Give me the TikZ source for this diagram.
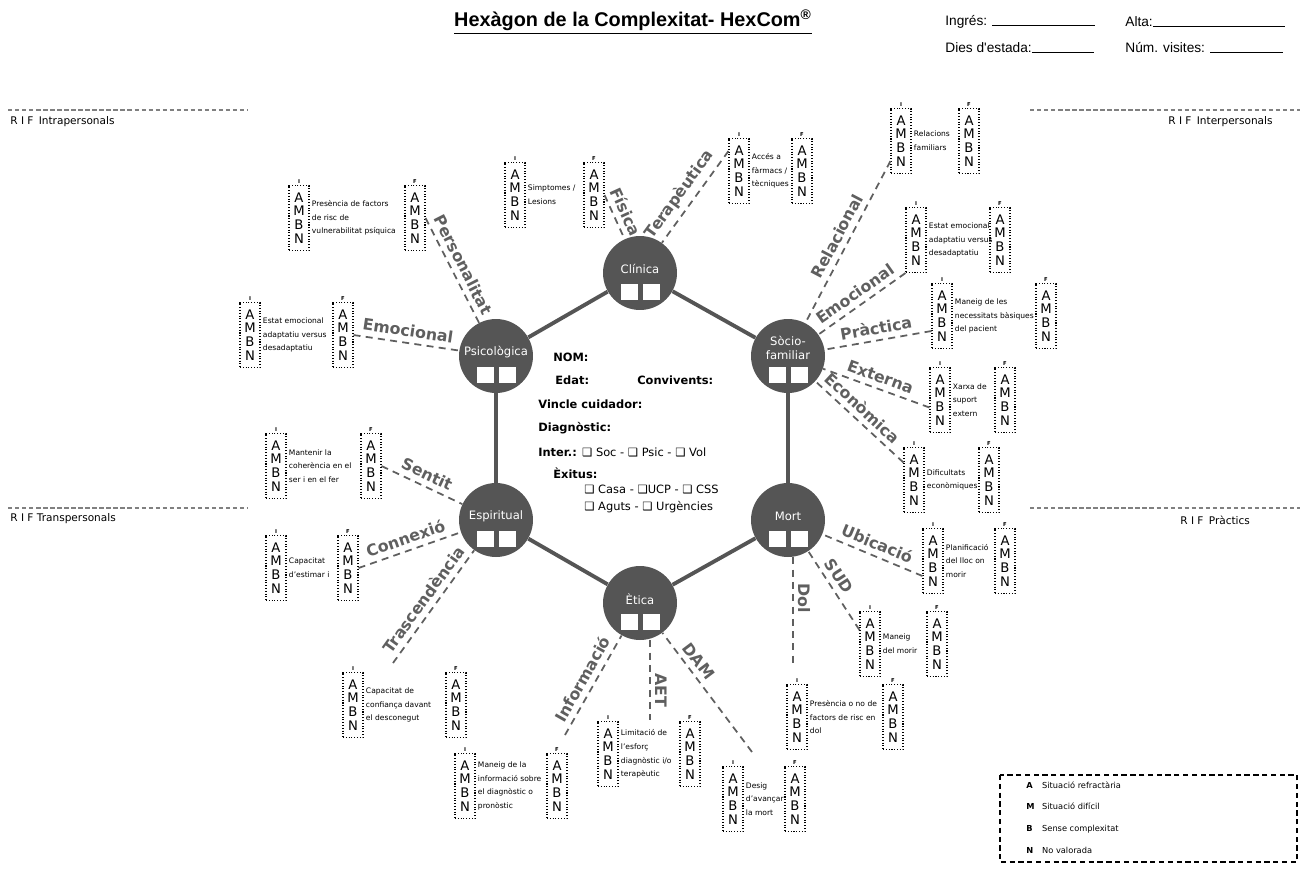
\documentclass[tikz,border=0pt]{standalone}
\usepackage{fontspec}
\setmainfont{DejaVu Sans}
\newfontfamily\arialfont{Liberation Sans}
\usetikzlibrary{calc,positioning}
\definecolor{hexgray}{RGB}{85,85,85}
\definecolor{catgray}{RGB}{95,95,95}
\tikzset{
  line cap=round,
  hexnode/.style={circle, fill=hexgray, minimum size=1.48cm, inner sep=0pt},
  hexlabel/.style={text=white, font=\fontsize{6.6}{7.6}\selectfont, align=center, inner sep=0pt},
  whitebox/.style={fill=white, minimum width=0.34cm, minimum height=0.33cm, inner sep=0pt},
  hexedge/.style={draw=hexgray, line width=2.2pt},
  ambnbox/.style={draw, densely dotted, line width=0.6pt, minimum width=0.4cm, minimum height=1.3cm, inner sep=0pt, align=center, font=\fontsize{7.5}{7.9}\selectfont},
  ioflabel/.style={font=\bfseries\fontsize{3}{3}\selectfont, inner sep=0.6pt},
  desc/.style={anchor=west, align=left, inner sep=1.2pt, font=\fontsize{4.3}{7.8}\selectfont},
  cat/.style={text=catgray, font=\bfseries\fontsize{9}{9.5}\selectfont, inner sep=0pt},
  link/.style={draw=catgray, line width=1pt, dash pattern=on 4pt off 3pt},
  info/.style={anchor=west, inner sep=0pt, font=\bfseries\fontsize{6.5}{7}\selectfont},
  hdr/.style={anchor=west, inner sep=0pt, font=\arialfont\fontsize{7.8}{8}\selectfont},
  rif/.style={anchor=west, inner sep=0pt, font=\fontsize{6}{7}\selectfont},
  sepline/.style={draw=gray, line width=0.6pt, dash pattern=on 2.5pt off 1.5pt},
  legend/.style={anchor=west, inner sep=0pt, font=\fontsize{4.7}{5}\selectfont}
}
% one item: name, x of I box, x of F box, top, text
\newcommand{\ambnpair}[5]{%
  \node[ambnbox, anchor=north, label={[ioflabel]above:I}] (#1-i) at (#2,#4) {A\\M\\B\\N};
  \node[ambnbox, anchor=north, label={[ioflabel]above:F}] (#1-f) at (#3,#4) {A\\M\\B\\N};
  \node[desc] (#1-t) at (#1-i.east) {#5};
}
% one dimension of the hexagon: name, x, y, label, label shift
\newcommand{\hexcircle}[5]{%
  \node[hexnode] (#1) at (#2,#3) {};
  \node[hexlabel] (#1-l) at ([yshift=#5]#1.center) {#4};
  \node[whitebox] (#1-a) at ([xshift=-0.22cm,yshift=-0.38cm]#1.center) {};
  \node[whitebox] (#1-b) at ([xshift=0.22cm,yshift=-0.38cm]#1.center) {};
}
\newcommand{\legitem}[2]{\makebox[9pt][l]{\textbf{#1}}#2}

\begin{document}
\begin{tikzpicture}[x=0.02cm,y=-0.02cm]
  \useasboundingbox (0,0) rectangle (1308,869);

  % header
  \node[font=\arialfont\bfseries\fontsize{11.3}{12}\selectfont] (title) at (633,22) {\underline{Hexàgon de la Complexitat- HexCom\textsuperscript{\textregistered}}};
  \node[hdr] (ingres) at (945,22) {Ingrés: \rule{2.05cm}{0.5pt}};
  \node[hdr] (alta) at (1125,22) {Alta:\rule{2.65cm}{0.5pt}};
  \node[hdr] (dies) at (945,48) {Dies d'estada:\rule{1.24cm}{0.5pt}};
  \node[hdr] (visites) at (1125,48) {Núm. visites: \rule{1.45cm}{0.5pt}};

  % areas
  \draw[sepline] (8,110) -- (248,110);
  \draw[sepline] (1030,110) -- (1300,110);
  \draw[sepline] (8,508) -- (248,508);
  \draw[sepline] (1030,508) -- (1300,508);
  \node[rif] (rif-intra) at (10,122) {R I F\enspace Intrapersonals};
  \node[rif] (rif-inter) at (1168,122) {R I F\enspace Interpersonals};
  \node[rif] (rif-trans) at (10,519) {R I F Transpersonals};
  \node[rif] (rif-prac) at (1180,520) {R I F\enspace Pràctics};

  % hexagon
  \hexcircle{clin}{640}{273}{Clínica}{0.08cm}
  \hexcircle{socio}{788}{356}{Sòcio-\\familiar}{0.16cm}
  \hexcircle{mort}{788}{520}{Mort}{0.08cm}
  \hexcircle{etica}{640}{603}{Ètica}{0.08cm}
  \hexcircle{espir}{496}{520}{Espiritual}{0.08cm}
  \hexcircle{psico}{496}{356}{Psicològica}{0.08cm}
  \draw[hexedge] (clin) -- (socio);
  \draw[hexedge] (socio) -- (mort);
  \draw[hexedge] (mort) -- (etica);
  \draw[hexedge] (etica) -- (espir);
  \draw[hexedge] (espir) -- (psico);
  \draw[hexedge] (psico) -- (clin);

  % patient data
  \node[info] (nom) at (553,357) {NOM:};
  \node[info] (edat) at (555,380) {Edat:};
  \node[info] (conv) at (637,380) {Convivents:};
  \node[info] (vincle) at (538,404) {Vincle cuidador:};
  \node[info] (diag) at (538,428) {Diagnòstic:};
  \node[info] (inter) at (538,452) {Inter.: \mdseries ❑ Soc - ❑ Psic - ❑ Vol};
  \node[info] (exitus) at (553,473) {Èxitus:};
  \node[info, font=\fontsize{6.5}{7}\selectfont] (dest1) at (584,490) {❑ Casa - ❑UCP - ❑ CSS};
  \node[info, font=\fontsize{6.5}{7}\selectfont] (dest2) at (584,507) {❑ Aguts - ❑ Urgències};

  % items
  \ambnpair{pers}{299}{415}{185}{Presència de factors\\de risc de\\vulnerabilitat psíquica}
  \ambnpair{emop}{250}{343}{302}{Estat emocional\\adaptatiu versus\\desadaptatiu}
  \ambnpair{fis}{515}{594}{162}{Simptomes /\\Lesions}
  \ambnpair{ter}{739}{802}{138}{Accés a\\fàrmacs /\\tècniques}
  \ambnpair{rel}{901}{969}{108}{Relacions\\familiars}
  \ambnpair{emos}{916}{1000}{207}{Estat emocional\\adaptatiu versus\\desadaptatiu}
  \ambnpair{prac}{942}{1046}{283}{Maneig de les\\necessitats bàsiques\\del pacient}
  \ambnpair{ext}{940}{1005}{367}{Xarxa de\\suport\\extern}
  \ambnpair{eco}{914}{989}{447}{Dificultats\\econòmiques}
  \ambnpair{ubi}{933}{1005}{528}{Planificació\\del lloc on\\morir}
  \ambnpair{sud}{870}{937}{611}{Maneig\\del morir}
  \ambnpair{dol}{797}{893}{684}{Presència o no de\\factors de risc en\\dol}
  \ambnpair{dam}{733}{795}{766}{Desig\\d'avançar\\la mort}
  \ambnpair{aet}{608}{690}{721}{Limitació de\\l'esforç\\diagnòstic i/o\\terapèutic}
  \ambnpair{inf}{465}{557}{753}{Maneig de la\\informació sobre\\el diagnòstic o\\pronòstic}
  \ambnpair{tras}{353}{456}{672}{Capacitat de\\confiança davant\\el desconegut}
  \ambnpair{conn}{276}{348}{535}{Capacitat\\d'estimar i}
  \ambnpair{sent}{276}{371}{433}{Mantenir la\\coherència en el\\ser i en el fer}

  % connectors with their dimension labels
  \coordinate (dol-e) at (793,668);
  \coordinate (aet-e) at (650,720);
  \coordinate (dam-e) at (752,752);
  \coordinate (inf-e) at (565,735);
  \coordinate (tras-e) at (393,663);
  \draw[link] (pers-f.east) -- node[cat, sloped, above=3pt] (pers-c) {Personalitat} (psico);
  \draw[link] (emop-f.east) -- node[cat, sloped, above=3pt] (emop-c) {Emocional} (psico);
  \draw[link] (fis-f.east) -- node[cat, sloped, above=3pt] (fis-c) {Física} (clin);
  \draw[link] ([yshift=0.4cm]ter-i.west) -- node[cat, sloped, above=3pt, pos=0.56] (ter-c) {Terapèutica} (clin);
  \draw[link] ([yshift=-0.4cm]rel-i.west) -- node[cat, sloped, above=3pt] (rel-c) {Relacional} (socio);
  \draw[link] (emos-i.south west) -- node[cat, sloped, above=3pt] (emos-c) {Emocional} (socio);
  \draw[link] ([yshift=-0.3cm]prac-i.west) -- node[cat, sloped, above=3pt] (prac-c) {Pràctica} (socio);
  \draw[link] ([yshift=-0.15cm]ext-i.west) -- node[cat, sloped, above=3pt] (ext-c) {Externa} (socio);
  \draw[link] ([yshift=0.35cm]eco-i.west) -- node[cat, sloped, above=3pt, pos=0.56] (eco-c) {Econòmica} (socio);
  \draw[link] ([yshift=-0.3cm]ubi-i.west) -- node[cat, sloped, above=3pt] (ubi-c) {Ubicació} (mort);
  \draw[link] ([yshift=0.28cm]sud-i.west) -- node[cat, sloped, above=3pt, pos=0.6] (sud-c) {SUD} (mort);
  \draw[link] (mort.south -| dol-e) -- (dol-e);
  \draw[link] (dam-e) -- node[cat, sloped, above=3pt, pos=0.7] (dam-c) {DAM} (etica);
  \draw[link] (etica.south -| aet-e) -- (aet-e);
  \draw[link] (inf-e) -- node[cat, sloped, above=3pt] (inf-c) {Informació} (etica);
  \draw[link] (tras-e) -- node[cat, sloped, above=3pt] (tras-c) {Trascendència} (espir);
  \draw[link] (conn-f.east) -- node[cat, sloped, above=3pt] (conn-c) {Connexió} (espir);
  \draw[link] (sent-f.east) -- node[cat, sloped, above=3pt] (sent-c) {Sentit} (espir);
  \node[cat, rotate=-90] (dol-c) at (804,598) {Dol};
  \node[cat, rotate=-90] (aet-c) at (661,690) {AET};

  % legend
  \draw[densely dashed, line width=0.6pt] (1000,775) rectangle (1297,862);
  \node[legend] (leg-a) at (1026,785) {\legitem{A}{Situació refractària}};
  \node[legend] (leg-m) at (1026,806) {\legitem{M}{Situació difícil}};
  \node[legend] (leg-b) at (1026,829) {\legitem{B}{Sense complexitat}};
  \node[legend] (leg-n) at (1026,850) {\legitem{N}{No valorada}};
\end{tikzpicture}
\end{document}
